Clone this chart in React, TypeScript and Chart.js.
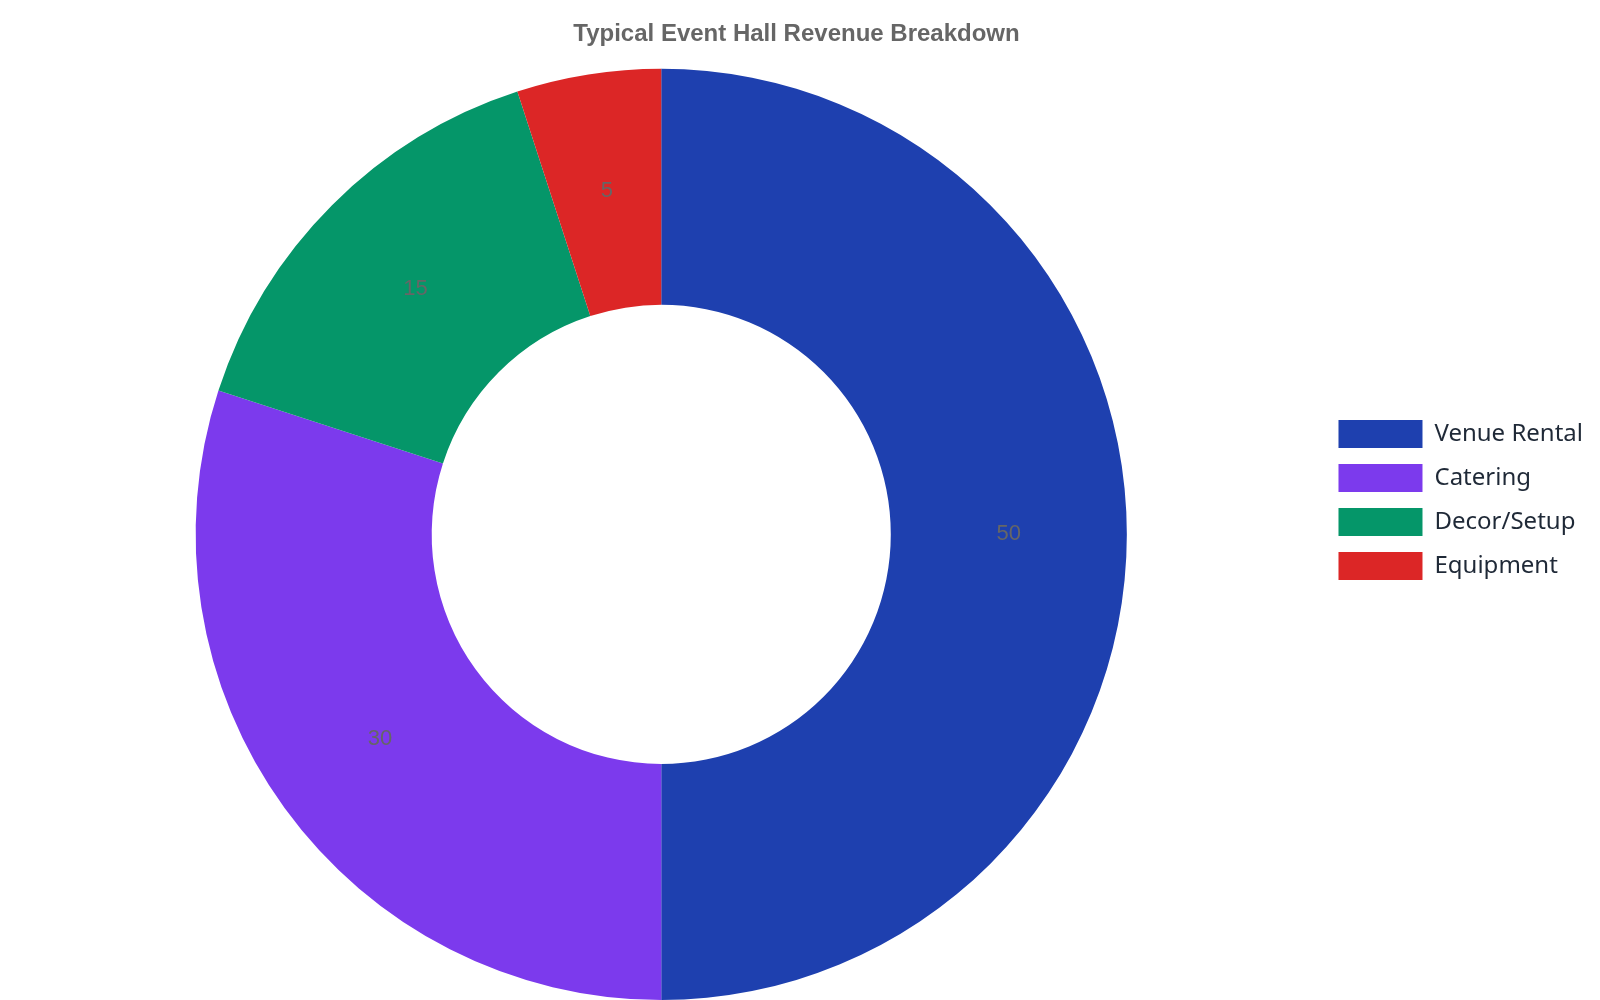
import React, { useEffect, useRef } from "react";
import { Chart, registerables } from "chart.js";

Chart.register(...registerables);

const categories = ["Venue Rental", "Catering", "Decor/Setup", "Equipment"];
const values = [50, 30, 15, 5];
const colors = ["#1e40af", "#7c3aed", "#059669", "#dc2626"];
const titleText = "Typical Event Hall Revenue Breakdown";

const valueLabels = {
  id: "valueLabels",
  afterDatasetsDraw(chart: any) {
    const ctx = chart.ctx;
    const meta = chart.getDatasetMeta(0);
    ctx.save();
    ctx.font = "22px 'Liberation Sans', Arial, sans-serif";
    ctx.fillStyle = "#666666";
    ctx.textAlign = "center";
    ctx.textBaseline = "middle";
    meta.data.forEach((arc: any, i: number) => {
      const p = arc.tooltipPosition();
      ctx.fillText(String(chart.data.datasets[0].data[i]), p.x, p.y);
    });
    ctx.restore();
  },
};

export default function App() {
  const ref = useRef<HTMLCanvasElement>(null);
  useEffect(() => {
    if (!ref.current) return;
    const chart = new Chart(ref.current, {
      type: "doughnut",
      data: {
        labels: categories,
        datasets: [
          {
            data: values,
            backgroundColor: colors,
            borderWidth: 0,
            hoverOffset: 0,
          },
        ],
      },
      options: {
        animation: false,
        responsive: true,
        maintainAspectRatio: false,
        cutout: "49.3%",
        layout: { padding: { left: 0, right: 7, top: 0, bottom: 0 } },
        plugins: {
          title: {
            display: true,
            text: titleText,
            color: "#666666",
            font: { size: 24, weight: "bold", family: "'Liberation Sans', Arial, sans-serif" },
            padding: 20,
          },
          legend: {
            position: "right",
            labels: {
              boxWidth: 84,
              boxHeight: 28,
              padding: 16,
              color: "#1f2937",
              font: { size: 24, family: "'Noto Sans', sans-serif" },
            },
          },
          tooltip: { enabled: false },
        },
      },
      plugins: [valueLabels],
    });
    return () => chart.destroy();
  }, []);
  return (
    <div style={{ position: "absolute", left: 0, top: 0, width: 1600, height: 1000 }}>
      <canvas ref={ref} />
    </div>
  );
}
